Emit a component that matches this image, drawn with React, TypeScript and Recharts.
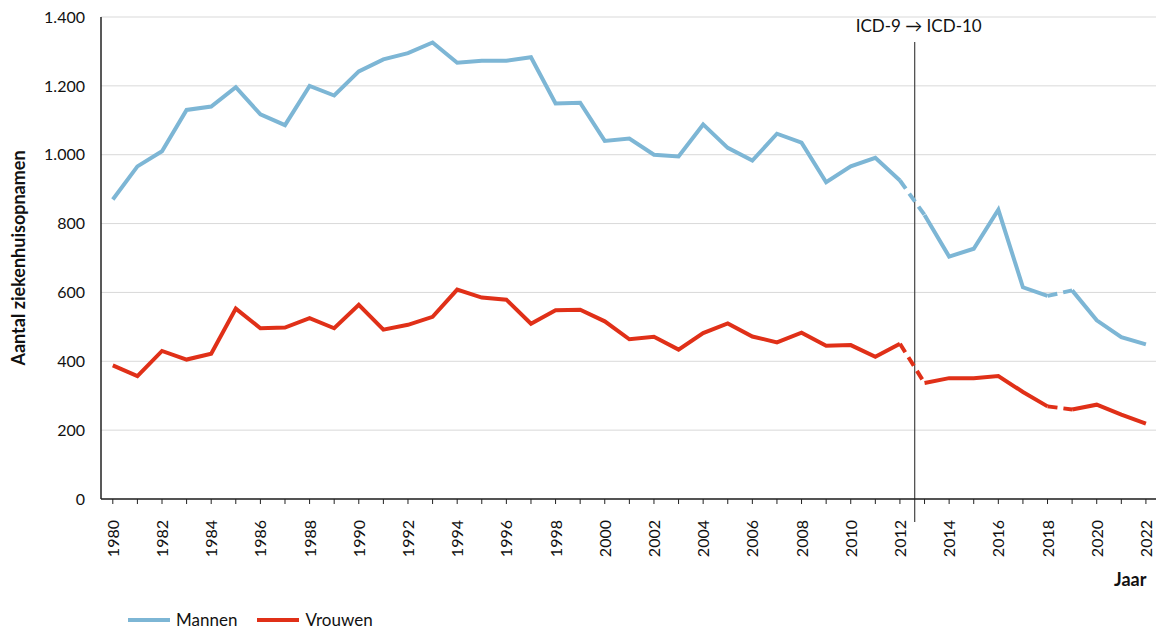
import { LineChart, Line, XAxis, YAxis, CartesianGrid, ReferenceLine } from 'recharts';

const years = [
  1980, 1981, 1982, 1983, 1984, 1985, 1986, 1987, 1988, 1989,
  1990, 1991, 1992, 1993, 1994, 1995, 1996, 1997, 1998, 1999,
  2000, 2001, 2002, 2003, 2004, 2005, 2006, 2007, 2008, 2009,
  2010, 2011, 2012, 2013, 2014, 2015, 2016, 2017, 2018, 2019,
  2020, 2021, 2022,
];

const mannen = [
  870, 966, 1010, 1130, 1140, 1196, 1117, 1086, 1200, 1172,
  1242, 1277, 1295, 1326, 1267, 1273, 1273, 1283, 1149, 1151,
  1040, 1047, 1000, 995, 1088, 1020, 983, 1061, 1035, 920,
  966, 991, 925, 825, 704, 727, 840, 615, 590, 606,
  519, 470, 449,
];

const vrouwen = [
  388, 357, 430, 405, 422, 553, 496, 498, 525, 496,
  564, 492, 506, 529, 608, 585, 579, 509, 548, 550,
  516, 464, 471, 434, 482, 510, 472, 455, 483, 445,
  447, 413, 451, 337, 351, 351, 357, 311, 269, 260,
  274, 245, 219,
];

const yTicks = [0, 200, 400, 600, 800, 1000, 1200, 1400];
const icdBreak = 2012.6;
const icdLabel = 'ICD-9 \u2192 ICD-10';

// solid pieces and dashed joins (ICD switch, 2018/2019 break)
const solidRanges = [[1980, 2012], [2013, 2018], [2019, 2022]];
const dashRanges = [[2012, 2013], [2018, 2019]];

const data = years.map((year, i) => {
  const row: Record<string, number | null> = { year };
  solidRanges.forEach(([a, b], k) => {
    const inside = year >= a && year <= b;
    row[`mS${k}`] = inside ? mannen[i] : null;
    row[`vS${k}`] = inside ? vrouwen[i] : null;
  });
  dashRanges.forEach(([a, b], k) => {
    const inside = year >= a && year <= b;
    row[`mD${k}`] = inside ? mannen[i] : null;
    row[`vD${k}`] = inside ? vrouwen[i] : null;
  });
  return row;
});

const BLUE = '#7db6d5';
const RED = '#e03018';
const FONT = 'Lato, "Open Sans", sans-serif';

const fmt = (v: number) =>
  v >= 1000 ? `${Math.floor(v / 1000)}.${String(v % 1000).padStart(3, '0')}` : String(v);

function YearTick(props: any) {
  const { x, y, payload } = props;
  if (payload.value % 2 !== 0) return null;
  return (
    <text
      transform={`translate(${x + 6},${y + 14}) rotate(-90)`}
      textAnchor="end"
      fontSize={16}
      fontFamily={FONT}
      fill="#111"
    >
      {payload.value}
    </text>
  );
}

function IcdLine(props: any) {
  const { x1, y1, y2 } = props;
  const top = Math.min(y1, y2);
  const bottom = Math.max(y1, y2);
  return (
    <g>
      <line x1={x1} y1={top + 25} x2={x1} y2={bottom + 23} stroke="#444" strokeWidth={1.2} />
      <text x={x1 + 4} y={top + 15} textAnchor="middle" fontSize={17} fontFamily={FONT} fill="#111">
        {icdLabel}
      </text>
    </g>
  );
}

export default function App() {
  const lineProps = {
    type: 'linear' as const,
    strokeWidth: 4,
    dot: false,
    activeDot: false,
    isAnimationActive: false,
    connectNulls: false,
  };

  return (
    <div style={{ position: 'absolute', left: 0, top: 0, width: 1156, height: 630, background: '#fff', fontFamily: FONT }}>
      <LineChart width={1156} height={630} data={data} margin={{ top: 17, right: 0, left: 0, bottom: 71 }}>
        <CartesianGrid vertical={false} stroke="#d9d9d9" strokeWidth={1} />
        <XAxis
          dataKey="year"
          type="number"
          domain={[1979.52, 2022.41]}
          ticks={years}
          interval={0}
          tick={<YearTick />}
          tickSize={5}
          height={60}
          axisLine={{ stroke: '#222', strokeWidth: 1.5 }}
          tickLine={{ stroke: '#222', strokeWidth: 1 }}
          allowDataOverflow
        />
        <YAxis
          domain={[0, 1400]}
          ticks={yTicks}
          width={101}
          tickFormatter={fmt}
          tickSize={0}
          tickMargin={16}
          tick={{ fill: '#111', fontSize: 16, fontFamily: FONT }}
          axisLine={{ stroke: '#222', strokeWidth: 1.5 }}
          tickLine={false}
        />
        <ReferenceLine x={icdBreak} shape={<IcdLine />} ifOverflow="visible" />
        {solidRanges.map((_, k) => (
          <Line key={`mS${k}`} dataKey={`mS${k}`} stroke={BLUE} {...lineProps} />
        ))}
        {dashRanges.map((_, k) => (
          <Line key={`mD${k}`} dataKey={`mD${k}`} stroke={BLUE} strokeDasharray="10 6" {...lineProps} />
        ))}
        {solidRanges.map((_, k) => (
          <Line key={`vS${k}`} dataKey={`vS${k}`} stroke={RED} {...lineProps} />
        ))}
        {dashRanges.map((_, k) => (
          <Line key={`vD${k}`} dataKey={`vD${k}`} stroke={RED} strokeDasharray="10 6" {...lineProps} />
        ))}
      </LineChart>

      <div
        style={{
          position: 'absolute',
          left: 18,
          top: 258,
          transform: 'translate(-50%, -50%) rotate(-90deg)',
          whiteSpace: 'nowrap',
          fontWeight: 700,
          fontSize: 18,
          color: '#111',
        }}
      >
        Aantal ziekenhuisopnamen
      </div>
      <div style={{ position: 'absolute', left: 1114, top: 568, fontWeight: 700, fontSize: 18, color: '#111' }}>
        Jaar
      </div>

      <div style={{ position: 'absolute', left: 128, top: 609, display: 'flex', alignItems: 'center', fontSize: 17, color: '#111' }}>
        <span style={{ display: 'inline-block', width: 42, height: 4, background: BLUE, marginRight: 6 }} />
        <span style={{ marginRight: 20 }}>Mannen</span>
        <span style={{ display: 'inline-block', width: 42, height: 4, background: RED, marginRight: 6 }} />
        <span>Vrouwen</span>
      </div>
    </div>
  );
}
